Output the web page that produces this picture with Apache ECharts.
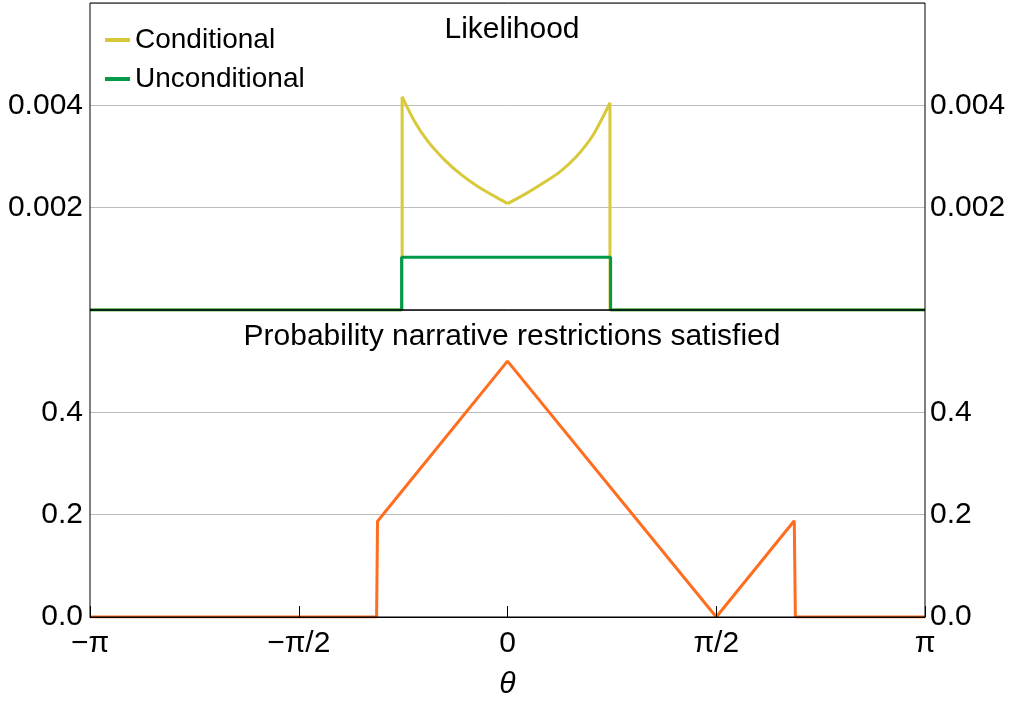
<!DOCTYPE html>
<html lang="en">
<head>
    <meta charset="utf-8">
    <title>Likelihood</title>
    <script src="https://cdn.jsdelivr.net/npm/echarts@6/dist/echarts.min.js"></script>
    <style type="text/css">
    html, body {
        margin: 0;
        background: #fff;
    }
    #chart {
        width: 1013px;
        height: 702px;
    }
    </style>
</head>
<body>
    <div id="chart"></div>
    <script type="text/javascript">
    var PI = Math.PI;

    // x tick labels, one per pi/2 step
    var xTickLabels = ['\u2212\u03c0', '\u2212\u03c0/2', '0', '\u03c0/2', '\u03c0'];

    // top panel: likelihood, [theta, value]
    // conditional is kept in pieces so the curved parts can be smoothed
    var condLeftEdge = [[-PI, 0], [-0.793, 0], [-0.793, 0.00417]];
    var condLeft = [
        [-0.793, 0.00417], [-0.698, 0.00368], [-0.597, 0.00329], [-0.472, 0.00293],
        [-0.346, 0.00264], [-0.221, 0.00241], [-0.096, 0.00222], [0, 0.00208]
    ];
    var condRight = [
        [0, 0.00208], [0.143, 0.00228], [0.268, 0.00248], [0.394, 0.00270],
        [0.519, 0.00300], [0.644, 0.00342], [0.771, 0.00405]
    ];
    var condRightEdge = [[0.771, 0.00405], [0.771, 0], [PI, 0]];
    var unconditional = [
        [-PI, 0], [-0.797, 0], [-0.797, 0.00103], [0.776, 0.00103], [0.776, 0], [PI, 0]
    ];

    // bottom panel: probability narrative restrictions satisfied
    var probability = [
        [-PI, 0], [-0.985, 0], [-0.978, 0.187], [0, 0.5], [1.571, 0],
        [2.158, 0.188], [2.166, 0], [PI, 0]
    ];

    var font = "'Liberation Sans', Arial, sans-serif";
    var fs = 30;
    var yellow = '#d8c93a', green = '#009a49', orange = '#ff6d1f';

    function xLabel(v) {
        var k = Math.round(v / (PI / 2)) + 2;
        return xTickLabels[k] || '';
    }

    function yAxis(grid, pos, max, step, digits, showMin) {
        return {
            type: 'value', gridIndex: grid, position: pos,
            min: 0, max: max, interval: step,
            axisLine: { show: false }, axisTick: { show: false },
            splitLine: { show: pos === 'left', lineStyle: { color: '#bdbdbd', width: 1 } },
            axisLabel: {
                margin: pos === 'left' ? 7 : 5,
                fontFamily: font, fontSize: fs, color: '#000',
                showMinLabel: showMin, showMaxLabel: false,
                formatter: function (v) { return v.toFixed(digits); }
            }
        };
    }

    function line(name, data, color, xi, yi, smooth) {
        return {
            name: name, type: 'line', xAxisIndex: xi, yAxisIndex: yi, data: data,
            smooth: smooth ? 0.3 : false,
            showSymbol: false, symbol: 'none',
            lineStyle: { color: color, width: 3 }, itemStyle: { color: color }
        };
    }

    var chart = echarts.init(document.getElementById('chart'), null, { renderer: 'canvas' });

    chart.setOption({
        animation: false,
        backgroundColor: '#fff',
        title: [
            { text: 'Likelihood', left: 507, top: 10, textAlign: 'center',
              textStyle: { fontFamily: font, fontSize: fs, fontWeight: 'normal', color: '#000' } },
            { text: 'Probability narrative restrictions satisfied', left: 507, top: 317, textAlign: 'center',
              textStyle: { fontFamily: font, fontSize: fs, fontWeight: 'normal', color: '#000' } }
        ],
        legend: {
            orient: 'vertical', left: 100, top: 20, itemGap: 9,
            itemWidth: 25, itemHeight: 4, icon: 'rect',
            textStyle: { fontFamily: font, fontSize: 28, color: '#000', lineHeight: 30 },
            data: ['Conditional', 'Unconditional']
        },
        grid: [
            { left: 90, right: 88, top: 3, height: 307, show: true, borderColor: '#000', borderWidth: 1,
              z: 5, containLabel: false, outerBoundsMode: 'none' },
            { left: 90, right: 88, top: 310, height: 307, show: true, borderColor: '#000', borderWidth: 1,
              z: 5, containLabel: false, outerBoundsMode: 'none' }
        ],
        xAxis: [
            { type: 'value', gridIndex: 0, min: -PI, max: PI, interval: PI / 2,
              axisLine: { show: false }, axisTick: { show: false },
              axisLabel: { show: false }, splitLine: { show: false } },
            { type: 'value', gridIndex: 1, min: -PI, max: PI, interval: PI / 2, z: 5,
              axisLine: { show: true, lineStyle: { color: '#000', width: 1 } },
              axisTick: { show: true, inside: true, length: 11, lineStyle: { color: '#000' } },
              axisLabel: { margin: 12, fontFamily: font, fontSize: fs, color: '#000', formatter: xLabel },
              splitLine: { show: false },
              name: '\u03b8', nameLocation: 'middle', nameGap: 53,
              nameTextStyle: { fontFamily: font, fontSize: fs, fontStyle: 'italic', color: '#000' } }
        ],
        yAxis: [
            yAxis(0, 'left', 0.006, 0.002, 3, false),
            yAxis(0, 'right', 0.006, 0.002, 3, false),
            yAxis(1, 'left', 0.6, 0.2, 1, true),
            yAxis(1, 'right', 0.6, 0.2, 1, true)
        ],
        series: [
            line('Conditional', condLeftEdge, yellow, 0, 0, false),
            line('Conditional', condLeft, yellow, 0, 0, true),
            line('Conditional', condRight, yellow, 0, 0, true),
            line('Conditional', condRightEdge, yellow, 0, 0, false),
            line('Unconditional', unconditional, green, 0, 0, false),
            line('Probability', probability, orange, 1, 2, false)
        ]
    });
    </script>
</body>
</html>
